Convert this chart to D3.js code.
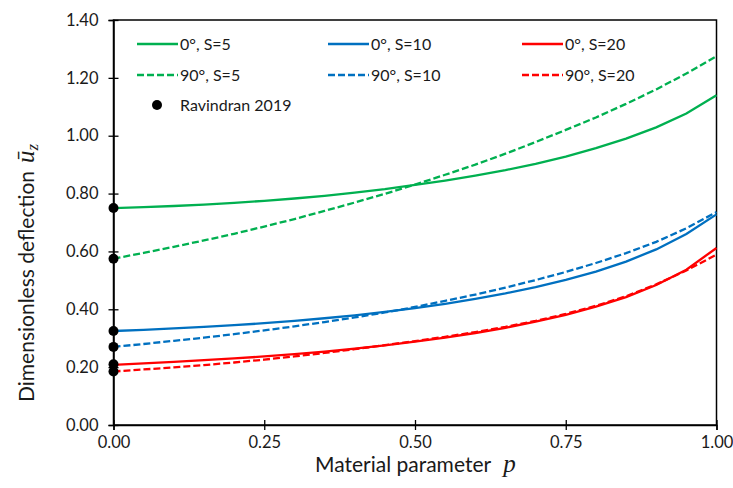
<!DOCTYPE html>
<html><head><meta charset="utf-8">
<script src="https://cdn.jsdelivr.net/npm/d3@7"></script>
<style>
body{margin:0;background:#fff;}
text{font-family:Lato,"Open Sans",sans-serif;}
</style></head>
<body><svg id="c" width="733" height="488"></svg>
<script>
const pValues = [0,0.05,0.1,0.15,0.2,0.25,0.3,0.35,0.4,0.45,0.5,0.55,0.6,0.65,0.7,0.75,0.8,0.85,0.9,0.95,1.0];
const g0S5  = [0.750,0.753,0.757,0.762,0.768,0.775,0.783,0.792,0.803,0.815,0.830,0.845,0.862,0.881,0.903,0.928,0.957,0.990,1.029,1.077,1.140];
const g90S5 = [0.575,0.595,0.616,0.638,0.661,0.686,0.712,0.740,0.769,0.799,0.831,0.865,0.900,0.938,0.978,1.020,1.063,1.110,1.160,1.215,1.275];
const b0S10 = [0.325,0.329,0.334,0.339,0.345,0.352,0.360,0.369,0.379,0.391,0.404,0.419,0.436,0.455,0.477,0.502,0.530,0.565,0.607,0.660,0.728];
const b90S10= [0.270,0.280,0.291,0.302,0.314,0.327,0.341,0.356,0.372,0.389,0.408,0.429,0.451,0.475,0.501,0.529,0.560,0.594,0.633,0.680,0.736];
const r0S20 = [0.208,0.213,0.218,0.224,0.230,0.237,0.245,0.254,0.264,0.275,0.288,0.302,0.318,0.336,0.357,0.381,0.409,0.442,0.484,0.537,0.612];
const r90S20= [0.185,0.192,0.199,0.207,0.216,0.226,0.237,0.249,0.262,0.276,0.290,0.305,0.321,0.339,0.360,0.384,0.412,0.445,0.486,0.534,0.589];
const ravindranP = [0,0,0,0,0,0];
const ravindranU = [0.750,0.575,0.325,0.270,0.210,0.185];
const xTicks = [0,0.25,0.5,0.75,1.0];
const yTicks = [0,0.2,0.4,0.6,0.8,1.0,1.2,1.4];

const series = [
  {name:"0°, S=5",  vals:g0S5,  color:"#00B050", dash:null},
  {name:"0°, S=10", vals:b0S10, color:"#0070C0", dash:null},
  {name:"0°, S=20", vals:r0S20, color:"#FF0000", dash:null},
  {name:"90°, S=5", vals:g90S5, color:"#00B050", dash:"7,3"},
  {name:"90°, S=10",vals:b90S10,color:"#0070C0", dash:"7,3"},
  {name:"90°, S=20",vals:r90S20,color:"#FF0000", dash:"7,3"}
];

const svg = d3.select("#c");
const L=113.5, R=716.5, T=20, B=425;
const x = d3.scaleLinear().domain([0,1]).range([L,R]);
const y = d3.scaleLinear().domain([0,1.4]).range([B,T]);

// frame
svg.append("rect").attr("x",L).attr("y",T).attr("width",R-L).attr("height",B-T)
  .attr("fill","none").attr("stroke","#000").attr("stroke-width",1.5);

// y axis
const ya = svg.append("g").attr("transform",`translate(${L},0)`)
  .call(d3.axisLeft(y).tickValues(yTicks).tickFormat(d3.format(".2f")).tickSize(5).tickPadding(10));
ya.select(".domain").attr("stroke","#000").attr("stroke-width",1.5);
ya.selectAll(".tick line").attr("x2",-5).attr("x1",5).attr("stroke-width",1.3);
ya.selectAll(".tick text").attr("font-size",16.5).attr("fill","#1a1a1a").attr("font-family","Lato");

const xa = svg.append("g").attr("transform",`translate(0,${B})`)
  .call(d3.axisBottom(x).tickValues(xTicks).tickFormat(d3.format(".2f")).tickSize(5).tickPadding(6));
xa.select(".domain").attr("stroke","#000").attr("stroke-width",1.5);
xa.selectAll(".tick line").attr("y1",-5).attr("y2",5).attr("stroke-width",1.3);
xa.selectAll(".tick text").attr("font-size",16.5).attr("fill","#1a1a1a").attr("font-family","Lato");

// lines
const line = d3.line().x((d,i)=>x(pValues[i])).y(d=>y(d));
series.forEach(s=>{
  svg.append("path").datum(s.vals).attr("d",line).attr("fill","none")
    .attr("stroke",s.color).attr("stroke-width",2.3)
    .attr("stroke-dasharray",s.dash);
});

// points
svg.selectAll("circle.rv").data(ravindranU).enter().append("circle")
  .attr("class","rv").attr("cx",(d,i)=>x(ravindranP[i])).attr("cy",d=>y(d)).attr("r",5).attr("fill","#000");

// legend
const legCols=[137,328,522], legRows=[44,75];
series.forEach((s,i)=>{
  const cx=legCols[i%3], cy=legRows[Math.floor(i/3)];
  svg.append("line").attr("x1",cx).attr("x2",cx+41).attr("y1",cy).attr("y2",cy)
    .attr("stroke",s.color).attr("stroke-width",2.3).attr("stroke-dasharray",s.dash);
  svg.append("text").attr("x",cx+43).attr("y",cy+5.5).attr("font-size",16).attr("fill","#1a1a1a").text(s.name);
});
svg.append("circle").attr("cx",157).attr("cy",105).attr("r",5).attr("fill","#000");
svg.append("text").attr("x",180).attr("y",110.5).attr("font-size",16).attr("fill","#1a1a1a").text("Ravindran 2019");

// axis titles
const xt = svg.append("text").attr("x",315).attr("y",472).attr("text-anchor","start").attr("font-size",21).attr("fill","#1a1a1a");
xt.append("tspan").text("Material parameter");
xt.append("tspan").attr("dx",12).attr("font-family","Liberation Serif").attr("font-style","italic").attr("font-size",25).text("p");

const yt = svg.append("text").attr("transform","translate(34,402) rotate(-90)").attr("text-anchor","start").attr("font-size",21).attr("fill","#1a1a1a");
yt.append("tspan").text("Dimensionless deflection");
yt.append("tspan").attr("dx",8).attr("font-family","Liberation Serif").attr("font-style","italic").attr("font-size",25).text("u\u0304");
yt.append("tspan").attr("font-family","Liberation Serif").attr("font-style","italic").attr("font-size",17).attr("dy",4).text("z");
</script></body></html>
